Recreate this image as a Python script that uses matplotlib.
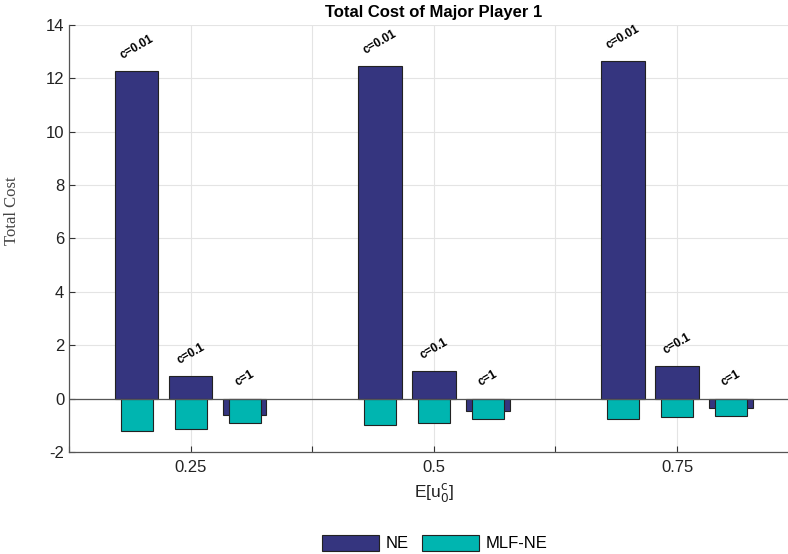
import matplotlib.pyplot as plt
import numpy as np

plt.rcParams['axes.unicode_minus'] = False

groups = [0.25, 0.5, 0.75]
group_labels = ['0.25', '0.5', '0.75']
c_labels = ['c=0.01', 'c=0.1', 'c=1']
ne = [[12.27, 0.85, -0.62],
      [12.46, 1.03, -0.48],
      [12.64, 1.22, -0.35]]
mlf_ne = [[-1.21, -1.15, -0.93],
          [-0.99, -0.91, -0.78],
          [-0.78, -0.70, -0.64]]

ne_color = '#35357f'
mlf_color = '#00b5b0'
offset = 0.0555

fig = plt.figure(figsize=(7.88, 5.54), dpi=100)
ax = fig.add_axes([0.0876, 0.184, 0.926, 0.771])

for gi, g in enumerate(groups):
    for ci in range(3):
        x = g + (ci - 1) * offset
        ax.bar(x, ne[gi][ci], width=0.0447, color=ne_color, edgecolor='#222222',
               linewidth=0.8, zorder=3, label='NE' if gi == 0 and ci == 0 else None)
        ax.bar(x, mlf_ne[gi][ci], width=0.0329, color=mlf_color, edgecolor='#222222',
               linewidth=0.8, zorder=4, label='MLF-NE' if gi == 0 and ci == 0 else None)
        ax.annotate(c_labels[ci], (x, max(ne[gi][ci], 0)), xytext=(0, 7),
                    textcoords='offset points', ha='center', va='bottom',
                    rotation=30, fontsize=8.5, fontweight='bold',
                    family='Liberation Sans', zorder=5)

ax.axhline(0, color='#555555', linewidth=0.9, zorder=4)

ax.set_xlim(0.125, 0.875)
ax.set_ylim(-2, 14)
ax.set_xticks([0.125, 0.25, 0.375, 0.5, 0.625, 0.75, 0.875])
ax.set_xticklabels(['', group_labels[0], '', group_labels[1], '', group_labels[2], ''])
ax.set_yticks(np.arange(-2, 15, 2))
ax.tick_params(direction='in', length=4, colors='#333333', labelsize=12,
               labelcolor='#222222')
for lab in ax.get_xticklabels() + ax.get_yticklabels():
    lab.set_family('Liberation Sans')
ax.tick_params(axis='x', pad=6)
ax.grid(True, color='#e4e4e4', linewidth=0.8, zorder=0)
ax.set_axisbelow(True)
for s in ['top', 'right']:
    ax.spines[s].set_visible(False)
for s in ['left', 'bottom']:
    ax.spines[s].set_color('#555555')
    ax.spines[s].set_linewidth(0.9)

ax.set_title('Total Cost of Major Player 1', fontsize=12, fontweight='bold',
             family='Liberation Sans', pad=6)
ax.set_ylabel('Total Cost', fontsize=12, family='Liberation Serif', color='#444444')
ax.yaxis.set_label_coords(-0.067, 0.564)
ax.set_xlabel(r'E[u$_0^{\rm c}$]', fontsize=12.5, family='Liberation Sans', color='#222222',
              labelpad=4)

fig.legend(loc='center', bbox_to_anchor=(0.552, 0.02), ncol=2, frameon=False,
           handlelength=3.4, handleheight=1.1, columnspacing=0.8, handletextpad=0.4,
           prop={'family': 'Liberation Sans', 'size': 12})

fig.savefig('out.png', dpi=100)
